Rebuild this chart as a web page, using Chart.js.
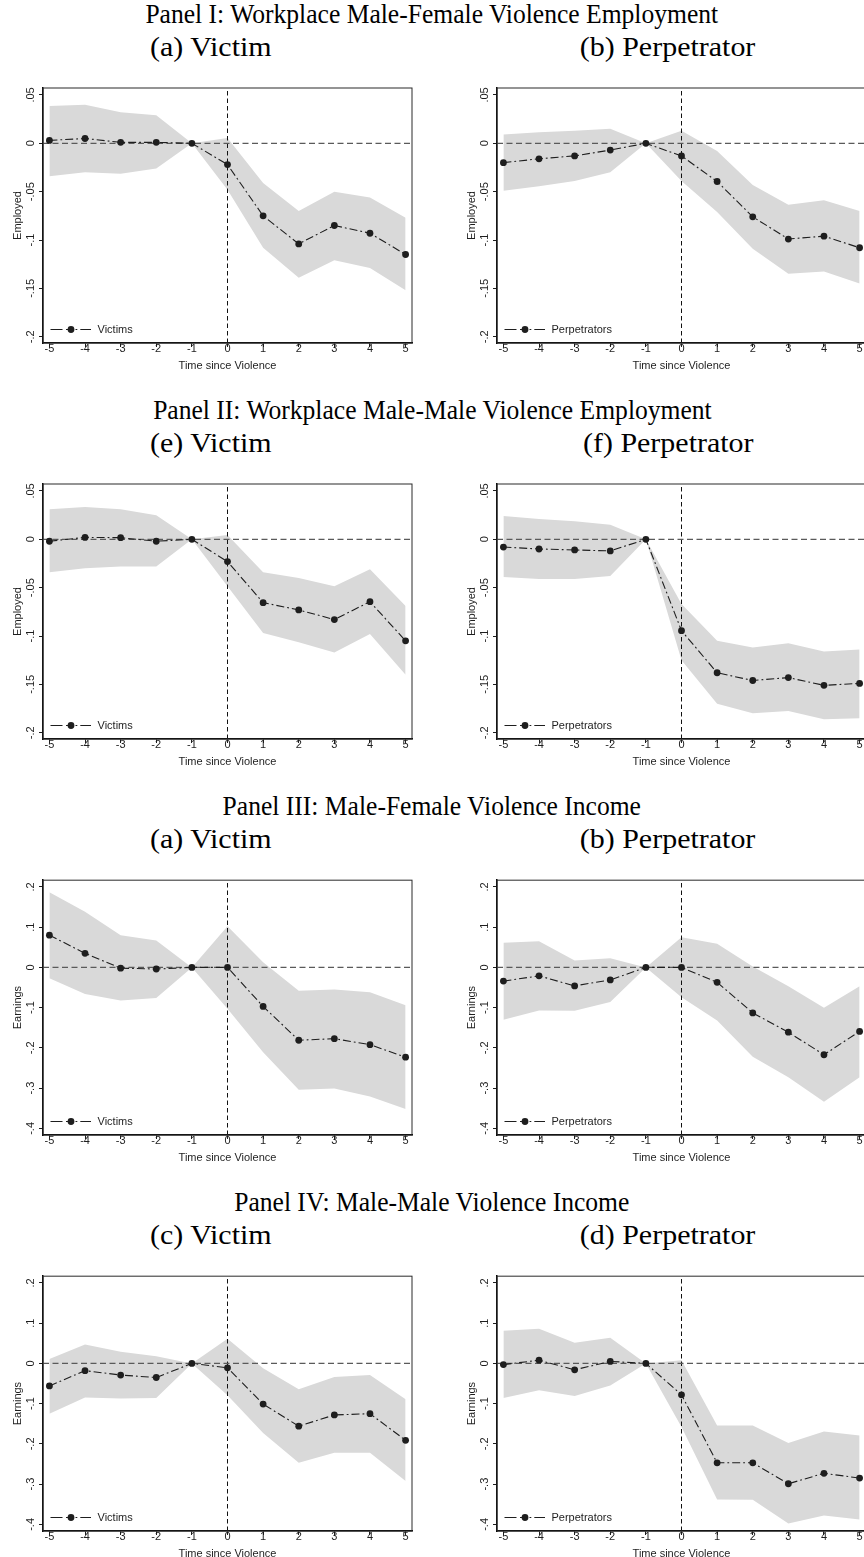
<!DOCTYPE html>
<html>
<head>
<meta charset="utf-8">
<script src="https://cdn.jsdelivr.net/npm/chart.js@4.4.1/dist/chart.umd.min.js"></script>
<style>
  html, body { margin: 0; padding: 0; background: #fff; }
  body { width: 864px; height: 1557px; overflow: hidden; position: relative; }
  .title, .sub {
    position: absolute; white-space: nowrap; color: #000;
    font-family: "Liberation Serif", "DejaVu Serif", serif;
  }
  .title { left: 0; width: 864px; text-align: center; font-size: 26.5px; line-height: 27px; }
  .title span, .sub span { display: inline-block; transform-origin: 50% 50%; }
  .sub { width: 400px; text-align: center; font-size: 27.5px; line-height: 28px; }
  .plot { position: absolute; width: 432px; height: 300px; }
  .plot canvas { display: block; }
</style>
</head>
<body>
<script>
// Event-study periods (years relative to the violent incident)
const PERIODS = [-5, -4, -3, -2, -1, 0, 1, 2, 3, 4, 5];
const X_TICK_LABELS = ['-5', '-4', '-3', '-2', '-1', '0', '1', '2', '3', '4', '5'];

// Y axes
const EMP_Y_TICKS = [-0.2, -0.15, -0.1, -0.05, 0, 0.05];
const EMP_Y_LABELS = ['-.2', '-.15', '-.1', '-.05', '0', '.05'];
const EARN_Y_TICKS = [-0.4, -0.3, -0.2, -0.1, 0, 0.1, 0.2];
const EARN_Y_LABELS = ['-.4', '-.3', '-.2', '-.1', '0', '.1', '.2'];

// Panel I: workplace male-female violence, employment
const empMfVictimEst = [0.003, 0.005, 0.001, 0.001, 0, -0.022, -0.075, -0.104, -0.085, -0.093, -0.115];
const empMfVictimHi  = [0.0385, 0.040, 0.032, 0.029, 0, 0.0056, -0.041, -0.070, -0.050, -0.056, -0.077];
const empMfVictimLo  = [-0.034, -0.030, -0.0315, -0.026, 0, -0.048, -0.108, -0.139, -0.121, -0.129, -0.152];

const empMfPerpEst = [-0.020, -0.016, -0.013, -0.007, 0, -0.013, -0.0395, -0.076, -0.099, -0.096, -0.108];
const empMfPerpHi  = [0.009, 0.0115, 0.013, 0.015, 0, 0.013, -0.008, -0.043, -0.0635, -0.059, -0.070];
const empMfPerpLo  = [-0.049, -0.0445, -0.039, -0.030, 0, -0.039, -0.071, -0.109, -0.135, -0.1325, -0.145];

// Panel II: workplace male-male violence, employment
const empMmVictimEst = [-0.002, 0.002, 0.0017, -0.002, 0, -0.023, -0.0655, -0.073, -0.083, -0.0645, -0.105];
const empMmVictimHi  = [0.031, 0.0335, 0.031, 0.025, 0, 0.0045, -0.034, -0.040, -0.0485, -0.031, -0.069];
const empMmVictimLo  = [-0.034, -0.030, -0.028, -0.028, 0, -0.0485, -0.097, -0.1065, -0.117, -0.098, -0.140];

const empMmPerpEst = [-0.008, -0.010, -0.011, -0.012, 0, -0.0945, -0.138, -0.146, -0.143, -0.151, -0.149];
const empMmPerpHi  = [0.024, 0.021, 0.0186, 0.015, 0, -0.067, -0.105, -0.112, -0.1075, -0.116, -0.114];
const empMmPerpLo  = [-0.039, -0.041, -0.041, -0.038, 0, -0.125, -0.170, -0.180, -0.1775, -0.186, -0.185];

// Panel III: male-female violence, earnings
const earnMfVictimEst = [0.080, 0.035, -0.002, -0.004, 0, 0, -0.097, -0.181, -0.177, -0.192, -0.223];
const earnMfVictimHi  = [0.187, 0.138, 0.080, 0.067, 0, 0.102, 0.013, -0.058, -0.055, -0.062, -0.094];
const earnMfVictimLo  = [-0.027, -0.066, -0.082, -0.076, 0, -0.103, -0.211, -0.304, -0.301, -0.321, -0.352];

const earnMfPerpEst = [-0.034, -0.021, -0.046, -0.031, 0, 0, -0.037, -0.113, -0.161, -0.217, -0.159];
const earnMfPerpHi  = [0.061, 0.065, 0.017, 0.023, 0, 0.075, 0.059, 0.0025, -0.047, -0.100, -0.047];
const earnMfPerpLo  = [-0.130, -0.107, -0.108, -0.086, 0, -0.074, -0.132, -0.222, -0.273, -0.334, -0.273];

// Panel IV: male-male violence, earnings
const earnMmVictimEst = [-0.056, -0.018, -0.029, -0.035, 0, -0.011, -0.101, -0.156, -0.128, -0.125, -0.191];
const earnMmVictimHi  = [0.011, 0.047, 0.029, 0.018, 0, 0.061, -0.012, -0.064, -0.034, -0.029, -0.089];
const earnMmVictimLo  = [-0.125, -0.085, -0.087, -0.086, 0, -0.079, -0.173, -0.247, -0.222, -0.222, -0.292];

const earnMmPerpEst = [-0.003, 0.008, -0.016, 0.005, 0, -0.078, -0.247, -0.247, -0.299, -0.273, -0.285];
const earnMmPerpHi  = [0.081, 0.086, 0.051, 0.064, 0, 0.008, -0.154, -0.154, -0.198, -0.169, -0.179];
const earnMmPerpLo  = [-0.086, -0.067, -0.081, -0.055, 0, -0.158, -0.338, -0.339, -0.398, -0.378, -0.388];

// Headings
const PANEL_TITLES = [
  'Panel I: Workplace Male-Female Violence Employment',
  'Panel II: Workplace Male-Male Violence Employment',
  'Panel III: Male-Female Violence Income',
  'Panel IV: Male-Male Violence Income'
];
const SUB_TITLES = [
  ['(a) Victim', '(b) Perpetrator'],
  ['(e) Victim', '(f) Perpetrator'],
  ['(a) Victim', '(b) Perpetrator'],
  ['(c) Victim', '(d) Perpetrator']
];
const X_TITLE = 'Time since Violence';
const LEGEND_LABELS = ['Victims', 'Perpetrators'];

// Axis setups
const X_MIN = -5.18, X_MAX = 5.18;
const EMP_AXIS = { min: -0.2065, max: 0.0572, ticks: EMP_Y_TICKS, labels: EMP_Y_LABELS, title: 'Employed' };
const EARN_AXIS = { min: -0.4164, max: 0.2167, ticks: EARN_Y_TICKS, labels: EARN_Y_LABELS, title: 'Earnings' };

const PANELS = [
  { axis: EMP_AXIS,  series: [[empMfVictimEst, empMfVictimHi, empMfVictimLo], [empMfPerpEst, empMfPerpHi, empMfPerpLo]] },
  { axis: EMP_AXIS,  series: [[empMmVictimEst, empMmVictimHi, empMmVictimLo], [empMmPerpEst, empMmPerpHi, empMmPerpLo]] },
  { axis: EARN_AXIS, series: [[earnMfVictimEst, earnMfVictimHi, earnMfVictimLo], [earnMfPerpEst, earnMfPerpHi, earnMfPerpLo]] },
  { axis: EARN_AXIS, series: [[earnMmVictimEst, earnMmVictimHi, earnMmVictimLo], [earnMmPerpEst, earnMmPerpHi, earnMmPerpLo]] }
];

// Layout constants
const ROW_STEP = 396;
const COL_LEFT = [0, 454];
const SUB_CENTER = [211, 668];
const TITLE_SQUEEZE = 0.965;
const SUB_STRETCH = 1.09;
const CANVAS_W = 432, CANVAS_H = 300;
const Y_AXIS_W = 43, X_AXIS_H = 37;
const TICK_LEN = 4;
const Y_LABEL_X = 31;
const AXIS_FONT = { family: '"Liberation Sans", Arial, sans-serif', size: 11 };
const INK = '#1e1e1e';
const BAND = '#d9d9d9';
const SERIES_DASH = [8, 3, 1.8, 3];

function measure(text) {
  const c = document.createElement('canvas').getContext('2d');
  c.font = AXIS_FONT.size + 'px ' + AXIS_FONT.family;
  return c.measureText(text).width;
}

// Frame around the plot region, as Stata draws it
const framePlugin = {
  id: 'frame',
  afterDraw(chart) {
    const { ctx, chartArea: a } = chart;
    ctx.save();
    ctx.strokeStyle = '#2a2a2a';
    ctx.lineWidth = 1;
    ctx.strokeRect(a.left, a.top, a.right - a.left, a.bottom - a.top);
    ctx.restore();
  }
};

// Legend drawn inside the lower-left corner of the plot region
const insideLegend = {
  id: 'insideLegend',
  afterDatasetsDraw(chart, args, opts) {
    const { ctx, chartArea: a } = chart;
    const y = a.bottom - 13.5;
    const x0 = a.left + 7.5, x1 = a.left + 48;
    ctx.save();
    ctx.strokeStyle = INK;
    ctx.lineWidth = 1;
    ctx.setLineDash([12, 3.5, 6, 3.5, 1.8, 3]);
    ctx.beginPath();
    ctx.moveTo(x0, y); ctx.lineTo(x1, y);
    ctx.stroke();
    ctx.setLineDash([]);
    ctx.fillStyle = INK;
    ctx.beginPath();
    ctx.arc(a.left + 28, y, 3.4, 0, Math.PI * 2);
    ctx.fill();
    ctx.font = AXIS_FONT.size + 'px ' + AXIS_FONT.family;
    ctx.textBaseline = 'middle';
    ctx.textAlign = 'left';
    ctx.fillText(opts.text, a.left + 54.5, y + 0.5);
    ctx.restore();
  }
};

function makeChart(canvas, axis, est, hi, lo, legendText) {
  const widest = Math.max(...axis.labels.map(measure));
  const yPad = Y_AXIS_W - TICK_LEN - Y_LABEL_X - widest / 2;
  const pts = arr => PERIODS.map((x, i) => ({ x, y: arr[i] }));
  return new Chart(canvas, {
    type: 'line',
    data: {
      datasets: [
        { data: pts(est), borderColor: INK, borderWidth: 1.1, borderDash: SERIES_DASH,
          pointRadius: 3.4, pointBackgroundColor: INK, pointBorderWidth: 0, fill: false, order: 0 },
        { data: [{ x: X_MIN, y: 0 }, { x: X_MAX, y: 0 }], borderColor: '#5a5a5a', borderWidth: 1.2,
          borderDash: [6, 3.5], pointRadius: 0, fill: false, order: 1 },
        { data: [{ x: 0, y: axis.min }, { x: 0, y: axis.max }], borderColor: '#111', borderWidth: 1,
          borderDash: [4.5, 3], pointRadius: 0, fill: false, order: 1 },
        { data: pts(hi), borderWidth: 0, borderColor: 'rgba(0,0,0,0)', backgroundColor: BAND,
          pointRadius: 0, fill: '+1', order: 2 },
        { data: pts(lo), borderWidth: 0, borderColor: 'rgba(0,0,0,0)', backgroundColor: BAND,
          pointRadius: 0, fill: false, order: 2 }
      ]
    },
    options: {
      responsive: false,
      animation: false,
      devicePixelRatio: 1,
      events: [],
      layout: { padding: { left: 0, right: 20, top: 8, bottom: 0 } },
      elements: { line: { tension: 0 } },
      plugins: {
        legend: { display: false },
        tooltip: { enabled: false },
        insideLegend: { text: legendText }
      },
      scales: {
        x: {
          type: 'linear', min: X_MIN, max: X_MAX,
          afterBuildTicks: s => { s.ticks = PERIODS.map(v => ({ value: v })); },
          afterFit: s => { s.height = X_AXIS_H; },
          ticks: { callback: (v, i) => X_TICK_LABELS[i], font: AXIS_FONT, color: INK,
                   padding: -4.5, maxRotation: 0, minRotation: 0, autoSkip: false },
          grid: { drawOnChartArea: false, drawTicks: true, tickLength: TICK_LEN, tickColor: INK, tickWidth: 1 },
          border: { display: true, color: '#000', width: 1.5 },
          title: { display: true, text: X_TITLE, font: AXIS_FONT, color: INK, padding: { top: 0, bottom: 7.5 } }
        },
        y: {
          type: 'linear', min: axis.min, max: axis.max,
          afterBuildTicks: s => { s.ticks = axis.ticks.map(v => ({ value: v })); },
          afterFit: s => { s.width = Y_AXIS_W; },
          ticks: { callback: (v, i) => axis.labels[i], font: AXIS_FONT, color: INK,
                   minRotation: 90, maxRotation: 90, crossAlign: 'center', padding: yPad, autoSkip: false },
          grid: { drawOnChartArea: false, drawTicks: true, tickLength: TICK_LEN, tickColor: INK, tickWidth: 1 },
          border: { display: true, color: '#000', width: 1.5 },
          title: { display: true, text: axis.title, font: AXIS_FONT, color: INK, padding: { top: 11.5, bottom: 0 } }
        }
      }
    },
    plugins: [framePlugin, insideLegend]
  });
}

PANELS.forEach((panel, r) => {
  const top = r * ROW_STEP;
  const t = document.createElement('div');
  t.className = 'title';
  t.style.top = (top + 1) + 'px';
  const ts = document.createElement('span');
  ts.textContent = PANEL_TITLES[r];
  ts.style.transform = 'scaleX(' + TITLE_SQUEEZE + ')';
  t.appendChild(ts);
  document.body.appendChild(t);

  SUB_TITLES[r].forEach((txt, c) => {
    const s = document.createElement('div');
    s.className = 'sub';
    s.style.top = (top + 33) + 'px';
    s.style.left = (SUB_CENTER[c] - 200) + 'px';
    const ss = document.createElement('span');
    ss.textContent = txt;
    ss.style.transform = 'scaleX(' + SUB_STRETCH + ')';
    s.appendChild(ss);
    document.body.appendChild(s);
  });

  panel.series.forEach((ser, c) => {
    const box = document.createElement('div');
    box.className = 'plot';
    box.style.left = COL_LEFT[c] + 'px';
    box.style.top = (top + 80) + 'px';
    const cv = document.createElement('canvas');
    cv.width = CANVAS_W; cv.height = CANVAS_H;
    cv.style.width = CANVAS_W + 'px'; cv.style.height = CANVAS_H + 'px';
    box.appendChild(cv);
    document.body.appendChild(box);
    makeChart(cv, panel.axis, ser[0], ser[1], ser[2], LEGEND_LABELS[c]);
  });
});
</script>
</body>
</html>
